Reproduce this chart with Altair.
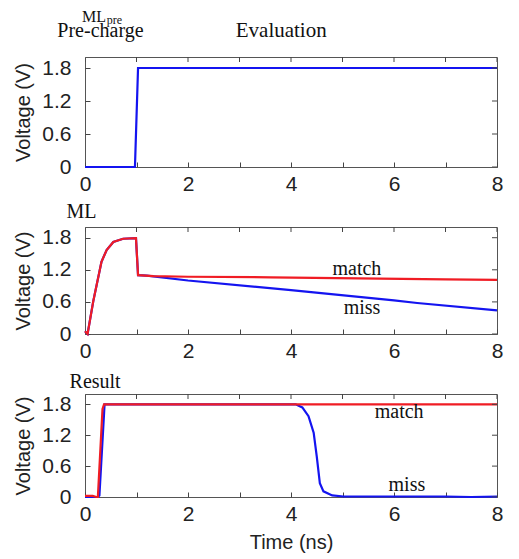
import altair as alt
import pandas as pd

# ---- data ----
# Panel 1: ML_pre
t_pre = [0, 0.97, 1.03, 8]
v_pre = [0, 0, 1.8, 1.8]

# Panel 2: ML
t_ml_match = [0, 0.05, 0.16, 0.32, 0.42, 0.55, 0.74, 0.99, 1.03, 1.33, 2.0, 3.6, 5.3, 7.0, 8.0]
v_ml_match = [0.05, 0.0, 0.61, 1.35, 1.57, 1.72, 1.78, 1.79, 1.10, 1.08, 1.07, 1.06, 1.04, 1.02, 1.01]
t_ml_miss = [0, 0.05, 0.16, 0.32, 0.42, 0.55, 0.74, 0.99, 1.03, 1.2, 2.0, 4.0, 6.0, 6.45, 8.0]
v_ml_miss = [0.05, 0.0, 0.61, 1.35, 1.57, 1.72, 1.78, 1.79, 1.10, 1.09, 1.0, 0.82, 0.63, 0.58, 0.44]

# Panel 3: Result
t_res_match = [0, 0.15, 0.22, 0.25, 0.34, 0.37, 8.0]
v_res_match = [0.02, 0.02, 0.0, 0.0, 1.71, 1.8, 1.8]
t_res_miss = [0, 0.25, 0.28, 0.38, 4.09, 4.22, 4.34, 4.44, 4.5, 4.56, 4.63, 4.8, 5.02, 6.0, 7.0, 7.5, 8.0]
v_res_miss = [0, 0, 0.03, 1.8, 1.8, 1.74, 1.57, 1.25, 0.79, 0.27, 0.11, 0.03, 0.01, 0.01, 0.01, 0.0, 0.01]

x_ticks = [0, 1, 2, 3, 4, 5, 6, 7, 8]
y_ticks = [0, 0.6, 1.2, 1.8]
x_min, x_max = 0, 8
y_min, y_max = 0, 2

BLUE = "#1414f0"
RED = "#f01c24"
SANS = "Liberation Sans"
SERIF = "Liberation Serif"
FRAME = "#555555"
TICK = "#444444"
TL = 5  # tick length, px

W = 412
xscale = alt.Scale(domain=[x_min, x_max], nice=False, zero=False)
yscale = alt.Scale(domain=[y_min, y_max], nice=False)


def axes(xtitle):
    # inward ticks on bottom / left: axis pulled into the plot by its tick length
    xax = alt.Axis(values=x_ticks, ticks=True, tickSize=TL, offset=-TL, tickColor=TICK,
                   tickWidth=1, domain=False, grid=False,
                   labelExpr="datum.value % 2 == 0 ? datum.label : ''",
                   labelFontSize=21, labelFont=SANS, labelPadding=6, labelColor="#222",
                   labelOverlap=False, labelFlush=False,
                   title=xtitle if xtitle else "", titleFont=SANS, titleFontSize=20,
                   titleFontWeight="normal", titlePadding=8, titleColor="#222")
    yax = alt.Axis(values=y_ticks, ticks=True, tickSize=TL, offset=-TL, tickColor=TICK,
                   tickWidth=1, domain=False, grid=False,
                   labelFontSize=21, labelFont=SANS, labelPadding=14, labelColor="#222",
                   labelOverlap=False, labelFlush=False,
                   labelExpr="datum.value == 0 ? '0' : format(datum.value, '.1f')",
                   title="Voltage (V)", titleFont=SANS, titleFontSize=20,
                   titleFontWeight="normal", titlePadding=8, titleColor="#222")
    return xax, yax


def df_of(t, v):
    return pd.DataFrame({"t": t, "v": v})


def line_layer(t, v, color, ax):
    xax, yax = ax
    return alt.Chart(df_of(t, v)).mark_line(color=color, strokeWidth=2.2).encode(
        x=alt.X("t:Q", scale=xscale, axis=xax),
        y=alt.Y("v:Q", scale=yscale, axis=yax),
    )


def tick_layers(ax):
    # inward ticks on top / right: ticks centred on the frame, clipped to the plot
    xax, yax = ax
    top = pd.DataFrame({"t": x_ticks, "v": [y_max] * len(x_ticks)})
    right = pd.DataFrame({"t": [x_max] * len(y_ticks), "v": y_ticks})
    return [
        alt.Chart(top).mark_tick(orient="vertical", size=2 * TL, thickness=1,
                                 color=TICK, clip=True, opacity=1).encode(
            x=alt.X("t:Q", scale=xscale, axis=xax),
            y=alt.Y("v:Q", scale=yscale, axis=yax),
        ),
        alt.Chart(right).mark_tick(orient="horizontal", size=2 * TL, thickness=1,
                                   color=TICK, clip=True, opacity=1).encode(
            x=alt.X("t:Q", scale=xscale, axis=xax),
            y=alt.Y("v:Q", scale=yscale, axis=yax),
        ),
    ]


def text_at(label, t, v, size=20, align="center"):
    return (label, t, v, size, align)


def text_layer(spec, ax):
    label, t, v, size, align = spec
    xax, yax = ax
    return alt.Chart(pd.DataFrame({"t": [t], "v": [v], "s": [label]})).mark_text(
        font=SERIF, fontSize=size, align=align, baseline="alphabetic", color="#111"
    ).encode(x=alt.X("t:Q", scale=xscale, axis=xax),
             y=alt.Y("v:Q", scale=yscale, axis=yax), text="s:N")


def panel(series, height, texts, xtitle=None):
    ax = axes(xtitle)
    layers = [line_layer(t, v, c, ax) for (t, v, c) in series]
    layers.extend(tick_layers(ax))
    layers.extend(text_layer(s, ax) for s in texts)
    return alt.layer(*layers).properties(width=W, height=height)


p1 = panel(
    [(t_pre, v_pre, BLUE)], 110,
    [
        text_at("ML", -0.06, 2.636, 16, align="left"),
        text_at("pre", 0.42, 2.60, 12, align="left"),
        text_at("Pre-charge", 0.30, 2.364, 20),
        text_at("Evaluation", 3.81, 2.364, 21),
    ],
)

p2 = panel(
    [(t_ml_miss, v_ml_miss, BLUE), (t_ml_match, v_ml_match, RED)], 107,
    [
        text_at("ML", -0.36, 2.168, 20, align="left"),
        text_at("match", 5.28, 1.11),
        text_at("miss", 5.38, 0.37),
    ],
)

p3 = panel(
    [(t_res_miss, v_res_miss, BLUE), (t_res_match, v_res_match, RED)], 103,
    [
        text_at("Result", -0.30, 2.117, 20, align="left"),
        text_at("match", 6.10, 1.53),
        text_at("miss", 6.25, 0.12),
    ],
    xtitle="Time (ns)",
)

chart = alt.VConcatChart(vconcat=[p1, p2, p3], spacing=60, bounds="flush").configure_view(
    stroke=FRAME, strokeWidth=1
).properties(padding={"left": 5, "top": 0, "right": 5, "bottom": 5})

chart.save("out.html", embed_options={"renderer": "svg", "actions": False})
